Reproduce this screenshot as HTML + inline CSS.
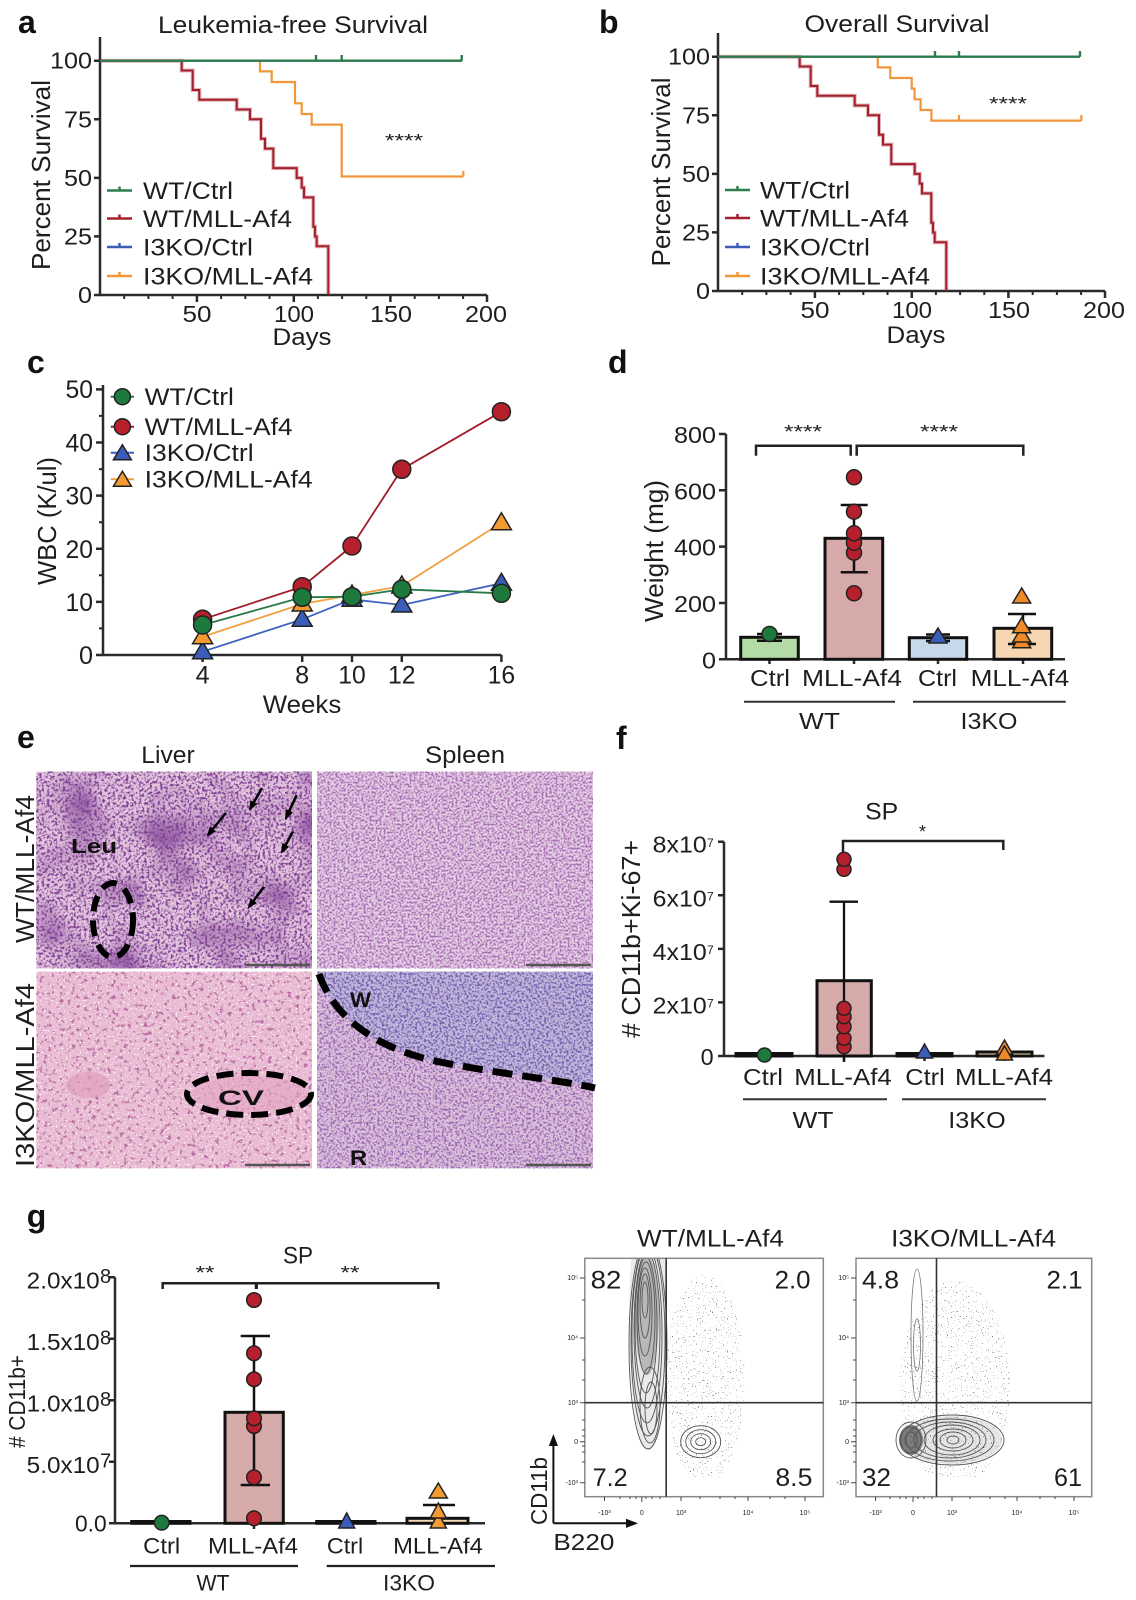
<!DOCTYPE html>
<html><head><meta charset="utf-8">
<style>
html,body{margin:0;padding:0;background:#fff;}
svg{display:block;}
text{font-family:"Liberation Sans",Arial,Helvetica,sans-serif;fill:#1e1e1e;}
.b{font-weight:bold;fill:#111;}
.ax{fill:none;stroke:#2a2a2a;stroke-width:2.5;}
.tk{fill:#555;font-size:7px;}
</style></head><body>
<svg width="1136" height="1600" viewBox="0 0 1136 1600" xmlns="http://www.w3.org/2000/svg">
<defs>
<filter id="nTL" x="0" y="0" width="1" height="1" color-interpolation-filters="sRGB">
<feTurbulence type="fractalNoise" baseFrequency="0.38" numOctaves="3" seed="4"/>
<feColorMatrix type="matrix" values="0 0 0 0 0.5 0 0 0 0 0.25 0 0 0 0 0.58 5 0 0 0 -2.35"/>
</filter>
<filter id="nTL2" x="0" y="0" width="1" height="1" color-interpolation-filters="sRGB">
<feTurbulence type="fractalNoise" baseFrequency="0.02" numOctaves="2" seed="9"/>
<feColorMatrix type="matrix" values="0 0 0 0 0.5 0 0 0 0 0.25 0 0 0 0 0.58 2 0 0 0 -0.9"/>
</filter>
<filter id="nTR" x="0" y="0" width="1" height="1" color-interpolation-filters="sRGB">
<feTurbulence type="fractalNoise" baseFrequency="0.5" numOctaves="2" seed="11"/>
<feColorMatrix type="matrix" values="0 0 0 0 0.66 0 0 0 0 0.44 0 0 0 0 0.7 5 0 0 0 -2.2"/>
</filter>
<filter id="nBL" x="0" y="0" width="1" height="1" color-interpolation-filters="sRGB">
<feTurbulence type="fractalNoise" baseFrequency="0.25" numOctaves="2" seed="21"/>
<feColorMatrix type="matrix" values="0 0 0 0 0.72 0 0 0 0 0.42 0 0 0 0 0.64 6 0 0 0 -3.4"/>
</filter>
<filter id="nBLw" x="0" y="0" width="1" height="1" color-interpolation-filters="sRGB">
<feTurbulence type="fractalNoise" baseFrequency="0.5" numOctaves="1" seed="5"/>
<feColorMatrix type="matrix" values="0 0 0 0 1 0 0 0 0 0.95 0 0 0 0 0.97 7 0 0 0 -4.2"/>
</filter>
<filter id="nBR" x="0" y="0" width="1" height="1" color-interpolation-filters="sRGB">
<feTurbulence type="fractalNoise" baseFrequency="0.45" numOctaves="2" seed="31"/>
<feColorMatrix type="matrix" values="0 0 0 0 0.6 0 0 0 0 0.42 0 0 0 0 0.7 5 0 0 0 -2.3"/>
</filter>
<filter id="nBR2" x="0" y="0" width="1" height="1" color-interpolation-filters="sRGB">
<feTurbulence type="fractalNoise" baseFrequency="0.45" numOctaves="2" seed="37"/>
<feColorMatrix type="matrix" values="0 0 0 0 0.45 0 0 0 0 0.38 0 0 0 0 0.68 5 0 0 0 -2.3"/>
</filter>
<filter id="spk" x="0" y="0" width="1" height="1" color-interpolation-filters="sRGB">
<feTurbulence type="fractalNoise" baseFrequency="0.8" numOctaves="1" seed="13"/>
<feColorMatrix type="matrix" values="0 0 0 0 0.3 0 0 0 0 0.3 0 0 0 0 0.3 25 0 0 0 -17.2"/>
</filter>
<clipPath id="cBRtop"><path d="M317,971.7 L319,974 C335,1020 380,1050 440,1062 S560,1080 593,1086 L593,971.7 Z"/></clipPath>
<clipPath id="boxL"><rect x="584.8" y="1258.3" width="238.5" height="238.4"/></clipPath>
<clipPath id="boxR"><rect x="856" y="1258.3" width="235.7" height="238.4"/></clipPath>
<clipPath id="spL"><ellipse cx="705" cy="1380" rx="40" ry="105"/></clipPath>
<clipPath id="spR"><ellipse cx="955" cy="1385" rx="55" ry="105"/></clipPath>
<marker id="ah" markerWidth="10" markerHeight="8" refX="8" refY="4" orient="auto" markerUnits="userSpaceOnUse"><path d="M0,0 L10,4 L0,8 Z" fill="#000"/></marker>
</defs>

<!-- ================= PANEL A ================= -->
<text class="b" x="18" y="33" font-size="32">a</text>
<text x="293" y="33" font-size="24" text-anchor="middle" textLength="270" lengthAdjust="spacingAndGlyphs">Leukemia-free Survival</text>
<g>
<path class="ax" d="M100,37 V295 H487"/>
<path stroke="#2a2a2a" stroke-width="2.5" d="M94,60.7H100M94,119.3H100M94,177.9H100M94,236.4H100M94,295H100"/>
<path stroke="#2a2a2a" stroke-width="2.5" d="M196.9,295V302M293.8,295V302M390.4,295V302M487,295V302"/>
<path stroke="#2a2a2a" stroke-width="2" d="M124.2,295V299M148.4,295V299M172.6,295V299M221.1,295V299M245.3,295V299M269.5,295V299M317.9,295V299M342.1,295V299M366.3,295V299M414.7,295V299M438.9,295V299M463.1,295V299"/>
<g font-size="23">
<text x="92" y="68.7" text-anchor="end" textLength="42" lengthAdjust="spacingAndGlyphs">100</text>
<text x="92" y="127.3" text-anchor="end" textLength="28" lengthAdjust="spacingAndGlyphs">75</text>
<text x="92" y="185.9" text-anchor="end" textLength="28" lengthAdjust="spacingAndGlyphs">50</text>
<text x="92" y="244.4" text-anchor="end" textLength="28" lengthAdjust="spacingAndGlyphs">25</text>
<text x="92" y="303" text-anchor="end" textLength="14" lengthAdjust="spacingAndGlyphs">0</text>
<text x="197" y="322" text-anchor="middle" textLength="29" lengthAdjust="spacingAndGlyphs">50</text>
<text x="294" y="322" text-anchor="middle" textLength="40" lengthAdjust="spacingAndGlyphs">100</text>
<text x="391" y="322" text-anchor="middle" textLength="42" lengthAdjust="spacingAndGlyphs">150</text>
<text x="486" y="322" text-anchor="middle" textLength="42" lengthAdjust="spacingAndGlyphs">200</text>
</g>
<text x="302" y="345" font-size="24" text-anchor="middle" textLength="59" lengthAdjust="spacingAndGlyphs">Days</text>
<text transform="translate(50,175) rotate(-90)" font-size="26" text-anchor="middle" textLength="190" lengthAdjust="spacingAndGlyphs">Percent Survival</text>
<path fill="none" stroke="#b02530" stroke-opacity="0.35" stroke-width="4" d="M100,60.7 H181.7 V70.5 H192.7 V90 H199.3 V99.7 H236.7 V109.5 H250 V119.3 H261 V138.8 H265 V148.6 H273.3 V168.1 H296.7 V177.9 H301.7 V187.6 H304 V197.4 H313.3 V226.7 H315 V236.5 H316.7 V246.2 H328.3 V295"/>
<path fill="none" stroke="#a3202e" stroke-width="2" d="M100,60.7 H181.7 V70.5 H192.7 V90 H199.3 V99.7 H236.7 V109.5 H250 V119.3 H261 V138.8 H265 V148.6 H273.3 V168.1 H296.7 V177.9 H301.7 V187.6 H304 V197.4 H313.3 V226.7 H315 V236.5 H316.7 V246.2 H328.3 V295"/>
<path fill="none" stroke="#f0963c" stroke-width="2.2" d="M100,60.7 H260 V71.35 H271.7 V82 H295 V103.3 H301.7 V114 H311.7 V124.6 H341.7 V176.5 H463.3 M463.3,176.5 V171"/>
<path fill="none" stroke="#3b5cb8" stroke-width="2" d="M100,60.7 H462"/>
<path fill="none" stroke="#2e7d4f" stroke-width="2.4" d="M100,60.7 H462 M316,60.7V55 M341.7,60.7V55 M461.7,60.7V55"/>
<g stroke-width="2.5">
<path stroke="#2e7d4f" d="M107,190.5H132M119.5,190.5V186.5"/>
<path stroke="#a3202e" d="M107,218.5H132M119.5,218.5V214.5"/>
<path stroke="#3b5cb8" d="M107,247H132M119.5,247V243"/>
<path stroke="#f0963c" d="M107,276H132M119.5,276V272"/>
</g>
<g font-size="24">
<text x="143" y="199" textLength="90" lengthAdjust="spacingAndGlyphs">WT/Ctrl</text>
<text x="143" y="227" textLength="149" lengthAdjust="spacingAndGlyphs">WT/MLL-Af4</text>
<text x="143" y="255.5" textLength="110" lengthAdjust="spacingAndGlyphs">I3KO/Ctrl</text>
<text x="143" y="284.5" textLength="170" lengthAdjust="spacingAndGlyphs">I3KO/MLL-Af4</text>
</g>
<text x="404" y="147" font-size="18" text-anchor="middle" textLength="38" lengthAdjust="spacingAndGlyphs">****</text>
</g>

<!-- ================= PANEL B ================= -->
<text class="b" x="599" y="33" font-size="32">b</text>
<g transform="translate(618,-4)">
<text x="279" y="36" font-size="24" text-anchor="middle" textLength="185" lengthAdjust="spacingAndGlyphs">Overall Survival</text>
<path class="ax" d="M100,37 V295 H487"/>
<path stroke="#2a2a2a" stroke-width="2.5" d="M94,60.7H100M94,119.3H100M94,177.9H100M94,236.4H100M94,295H100"/>
<path stroke="#2a2a2a" stroke-width="2.5" d="M196.9,295V302M293.8,295V302M390.4,295V302M487,295V302"/>
<path stroke="#2a2a2a" stroke-width="2" d="M124.2,295V299M148.4,295V299M172.6,295V299M221.1,295V299M245.3,295V299M269.5,295V299M317.9,295V299M342.1,295V299M366.3,295V299M414.7,295V299M438.9,295V299M463.1,295V299"/>
<g font-size="23">
<text x="92" y="68.7" text-anchor="end" textLength="42" lengthAdjust="spacingAndGlyphs">100</text>
<text x="92" y="127.3" text-anchor="end" textLength="28" lengthAdjust="spacingAndGlyphs">75</text>
<text x="92" y="185.9" text-anchor="end" textLength="28" lengthAdjust="spacingAndGlyphs">50</text>
<text x="92" y="244.4" text-anchor="end" textLength="28" lengthAdjust="spacingAndGlyphs">25</text>
<text x="92" y="303" text-anchor="end" textLength="14" lengthAdjust="spacingAndGlyphs">0</text>
<text x="197" y="322" text-anchor="middle" textLength="29" lengthAdjust="spacingAndGlyphs">50</text>
<text x="294" y="322" text-anchor="middle" textLength="40" lengthAdjust="spacingAndGlyphs">100</text>
<text x="391" y="322" text-anchor="middle" textLength="42" lengthAdjust="spacingAndGlyphs">150</text>
<text x="486" y="322" text-anchor="middle" textLength="42" lengthAdjust="spacingAndGlyphs">200</text>
</g>
<text x="298" y="347" font-size="24" text-anchor="middle" textLength="59" lengthAdjust="spacingAndGlyphs">Days</text>
<text transform="translate(52,176) rotate(-90)" font-size="26" text-anchor="middle" textLength="189" lengthAdjust="spacingAndGlyphs">Percent Survival</text>
<path fill="none" stroke="#b02530" stroke-opacity="0.35" stroke-width="4" d="M100,60.7 H181.7 V70.5 H192.7 V90 H199.3 V99.7 H236.7 V109.5 H250 V119.3 H261 V138.8 H265 V148.6 H273.3 V168.1 H296.7 V177.9 H301.7 V187.6 H304 V197.4 H313.3 V226.7 H315 V236.5 H316.7 V246.2 H328.3 V295"/>
<path fill="none" stroke="#a3202e" stroke-width="2" d="M100,60.7 H181.7 V70.5 H192.7 V90 H199.3 V99.7 H236.7 V109.5 H250 V119.3 H261 V138.8 H265 V148.6 H273.3 V168.1 H296.7 V177.9 H301.7 V187.6 H304 V197.4 H313.3 V226.7 H315 V236.5 H316.7 V246.2 H328.3 V295"/>
<path fill="none" stroke="#f0963c" stroke-width="2.2" d="M100,60.7 H259.8 V71.35 H272.3 V82 H293.7 V92.65 H296.6 V103.3 H302.6 V114 H313.4 V124.6 H463.4 M341,124.6V119 M463.4,124.6V119"/>
<path fill="none" stroke="#3b5cb8" stroke-width="2" d="M100,60.7 H462"/>
<path fill="none" stroke="#2e7d4f" stroke-width="2.4" d="M100,60.7 H462 M317,60.7V55 M341,60.7V55 M462,60.7V55"/>
<g stroke-width="2.5">
<path stroke="#2e7d4f" d="M107,194H132M119.5,194V190"/>
<path stroke="#a3202e" d="M107,222H132M119.5,222V218"/>
<path stroke="#3b5cb8" d="M107,251H132M119.5,251V247"/>
<path stroke="#f0963c" d="M107,280H132M119.5,280V276"/>
</g>
<g font-size="24">
<text x="142" y="202.5" textLength="90" lengthAdjust="spacingAndGlyphs">WT/Ctrl</text>
<text x="142" y="230.5" textLength="149" lengthAdjust="spacingAndGlyphs">WT/MLL-Af4</text>
<text x="142" y="259.5" textLength="110" lengthAdjust="spacingAndGlyphs">I3KO/Ctrl</text>
<text x="142" y="288.5" textLength="170" lengthAdjust="spacingAndGlyphs">I3KO/MLL-Af4</text>
</g>
<text x="390" y="114" font-size="18" text-anchor="middle" textLength="38" lengthAdjust="spacingAndGlyphs">****</text>
</g>

<!-- ================= PANEL C ================= -->
<text class="b" x="27" y="373" font-size="32">c</text>
<path class="ax" d="M103,385 V655 H501.4"/>
<path stroke="#2a2a2a" stroke-width="2.5" d="M96,389.4H103M96,442.5H103M96,495.6H103M96,548.8H103M96,601.9H103M96,655H103"/>
<path stroke="#2a2a2a" stroke-width="2" d="M99,415.9H103M99,469.1H103M99,522.2H103M99,575.3H103M99,628.4H103"/>
<path stroke="#2a2a2a" stroke-width="2.5" d="M202.6,655V662M302.2,655V662M352,655V662M401.8,655V662M501.4,655V662"/>
<g font-size="25">
<text x="93" y="398" text-anchor="end" textLength="27.5" lengthAdjust="spacingAndGlyphs">50</text>
<text x="93" y="451.5" text-anchor="end" textLength="27.5" lengthAdjust="spacingAndGlyphs">40</text>
<text x="93" y="504.6" text-anchor="end" textLength="27.5" lengthAdjust="spacingAndGlyphs">30</text>
<text x="93" y="557.8" text-anchor="end" textLength="27.5" lengthAdjust="spacingAndGlyphs">20</text>
<text x="93" y="610.9" text-anchor="end" textLength="27.5" lengthAdjust="spacingAndGlyphs">10</text>
<text x="93" y="664" text-anchor="end" textLength="14" lengthAdjust="spacingAndGlyphs">0</text>
<text x="202.6" y="683.3" text-anchor="middle" textLength="14" lengthAdjust="spacingAndGlyphs">4</text>
<text x="302.2" y="683.3" text-anchor="middle" textLength="14" lengthAdjust="spacingAndGlyphs">8</text>
<text x="352" y="683.3" text-anchor="middle" textLength="27.5" lengthAdjust="spacingAndGlyphs">10</text>
<text x="401.8" y="683.3" text-anchor="middle" textLength="27.5" lengthAdjust="spacingAndGlyphs">12</text>
<text x="501.4" y="683.3" text-anchor="middle" textLength="27.5" lengthAdjust="spacingAndGlyphs">16</text>
</g>
<text x="302" y="713" font-size="25" text-anchor="middle" textLength="78.5" lengthAdjust="spacingAndGlyphs">Weeks</text>
<text transform="translate(56,521) rotate(-90)" font-size="26" text-anchor="middle" textLength="128" lengthAdjust="spacingAndGlyphs">WBC (K/ul)</text>
<g fill="none" stroke-width="1.8">
<path stroke="#3d62c0" d="M202.6,651.7 L302.2,619.3 L352,599.3 L401.8,605 L501.4,583.3"/>
<path stroke="#f0a040" d="M202.6,636.7 L302.2,604 L352,595 L401.8,586 L501.4,522.7"/>
<path stroke="#2a7a45" d="M202.6,625 L302.2,597.3 L352,596.7 L401.8,589.3 L501.4,593.3"/>
<path stroke="#a01c2a" d="M202.6,619.3 L302.2,586.7 L352,546 L401.8,469.3 L501.4,411.7"/>
</g>
<g stroke="#222" stroke-width="1.5">
<g fill="#3b5cb8">
<path d="M202.6,641.7 L212.6,658.7 L192.6,658.7 Z"/>
<path d="M302.2,609.3 L312.2,626.3 L292.2,626.3 Z"/>
<path d="M352,589.3 L362,606.3 L342,606.3 Z"/>
<path d="M401.8,595 L411.8,612 L391.8,612 Z"/>
<path d="M501.4,573.3 L511.4,590.3 L491.4,590.3 Z"/>
</g>
<g fill="#f39a30">
<path d="M202.6,626.7 L212.6,643.7 L192.6,643.7 Z"/>
<path d="M302.2,594 L312.2,611 L292.2,611 Z"/>
<path d="M352,585 L362,602 L342,602 Z"/>
<path d="M401.8,576 L411.8,593 L391.8,593 Z"/>
<path d="M501.4,512.7 L511.4,529.7 L491.4,529.7 Z"/>
</g>
<g fill="#b5202c">
<circle cx="202.6" cy="619.3" r="9"/><circle cx="302.2" cy="586.7" r="9"/><circle cx="352" cy="546" r="9"/><circle cx="401.8" cy="469.3" r="9"/><circle cx="501.4" cy="411.7" r="9"/>
</g>
<g fill="#1d7a3c">
<circle cx="202.6" cy="625" r="9"/><circle cx="302.2" cy="597.3" r="9"/><circle cx="352" cy="596.7" r="9"/><circle cx="401.8" cy="589.3" r="9"/><circle cx="501.4" cy="593.3" r="9"/>
</g>
</g>
<g stroke-width="2">
<path stroke="#2a7a45" d="M110.7,396.7H134"/>
<path stroke="#a01c2a" d="M110.7,426.7H134"/>
<path stroke="#3d62c0" d="M110.7,452.7H134"/>
<path stroke="#f0a040" d="M110.7,479.3H134"/>
</g>
<g stroke="#222" stroke-width="1.5">
<circle cx="122.4" cy="396.7" r="8" fill="#1d7a3c"/>
<circle cx="122.4" cy="426.7" r="8" fill="#b5202c"/>
<path d="M122.4,444.7 L131.4,459.7 L113.4,459.7 Z" fill="#3b5cb8"/>
<path d="M122.4,471.3 L131.4,486.3 L113.4,486.3 Z" fill="#f39a30"/>
</g>
<g font-size="24">
<text x="144.6" y="405" textLength="89.3" lengthAdjust="spacingAndGlyphs">WT/Ctrl</text>
<text x="144.6" y="435" textLength="148" lengthAdjust="spacingAndGlyphs">WT/MLL-Af4</text>
<text x="144.6" y="461" textLength="109" lengthAdjust="spacingAndGlyphs">I3KO/Ctrl</text>
<text x="144.6" y="487.6" textLength="168" lengthAdjust="spacingAndGlyphs">I3KO/MLL-Af4</text>
</g>

<!-- ================= PANEL D ================= -->
<text class="b" x="608" y="373" font-size="32">d</text>
<path class="ax" d="M726,434 V659.3 H1065"/>
<path stroke="#2a2a2a" stroke-width="2.5" d="M719,434H726M719,490.3H726M719,546.6H726M719,603H726M719,659.3H726"/>
<path stroke="#2a2a2a" stroke-width="2.5" d="M769.5,659.3V664M854,659.3V664M938,659.3V664M1023,659.3V664"/>
<g font-size="23">
<text x="716" y="443" text-anchor="end" textLength="42" lengthAdjust="spacingAndGlyphs">800</text>
<text x="716" y="499.3" text-anchor="end" textLength="42" lengthAdjust="spacingAndGlyphs">600</text>
<text x="716" y="555.6" text-anchor="end" textLength="42" lengthAdjust="spacingAndGlyphs">400</text>
<text x="716" y="612" text-anchor="end" textLength="42" lengthAdjust="spacingAndGlyphs">200</text>
<text x="716" y="668.3" text-anchor="end" textLength="14" lengthAdjust="spacingAndGlyphs">0</text>
</g>
<text transform="translate(663,551) rotate(-90)" font-size="26" text-anchor="middle" textLength="142" lengthAdjust="spacingAndGlyphs">Weight (mg)</text>
<g stroke="#111" stroke-width="3">
<rect x="740.7" y="637.3" width="57.6" height="22" fill="#b3dba6"/>
<rect x="825" y="538.3" width="57.7" height="121" fill="#d6aaa9"/>
<rect x="909.3" y="637.7" width="57.4" height="21.6" fill="#c6d9ea"/>
<rect x="994" y="628.3" width="57.7" height="31" fill="#f7d6b2"/>
</g>
<g stroke="#111" stroke-width="2.5" fill="none">
<path d="M854,505V572.3M840.7,505H867.7M840.7,572.3H867.7"/>
<path d="M1023,614V644M1008,614H1036M1008,644H1036"/>
<path d="M757,634H782M757,640.7H782"/>
<path d="M926,634.5H950M926,641H950"/>
</g>
<g stroke="#222" stroke-width="1.5">
<g fill="#b5202c">
<circle cx="854" cy="593.3" r="7.5"/><circle cx="854" cy="552.7" r="7.5"/><circle cx="854" cy="542.7" r="7.5"/><circle cx="854" cy="533.3" r="7.5"/><circle cx="854" cy="511.7" r="7.5"/><circle cx="854" cy="477.3" r="7.5"/>
</g>
<circle cx="769.5" cy="634" r="7.5" fill="#1d7a3c"/>
<path d="M938,628 L947,643 L929,643 Z" fill="#3b5cb8"/>
<g fill="#f08a28">
<path d="M1021.7,632.7 L1030.7,647.7 L1012.7,647.7 Z"/>
<path d="M1021.7,627 L1030.7,642 L1012.7,642 Z"/>
<path d="M1021.7,617.7 L1030.7,632.7 L1012.7,632.7 Z"/>
<path d="M1021.7,588 L1030.7,603 L1012.7,603 Z"/>
</g>
</g>
<path fill="none" stroke="#222" stroke-width="2.5" d="M756,455.7V445.7H850.7V455.7M856.7,455.7V445.7H1023.3V455.7"/>
<text x="803" y="438" font-size="18" text-anchor="middle" textLength="38" lengthAdjust="spacingAndGlyphs">****</text>
<text x="939" y="438" font-size="18" text-anchor="middle" textLength="38" lengthAdjust="spacingAndGlyphs">****</text>
<g font-size="23">
<text x="770" y="686" text-anchor="middle" textLength="40" lengthAdjust="spacingAndGlyphs">Ctrl</text>
<text x="852" y="686" text-anchor="middle" textLength="100" lengthAdjust="spacingAndGlyphs">MLL-Af4</text>
<text x="937.5" y="686" text-anchor="middle" textLength="39" lengthAdjust="spacingAndGlyphs">Ctrl</text>
<text x="1020" y="686" text-anchor="middle" textLength="98.6" lengthAdjust="spacingAndGlyphs">MLL-Af4</text>
<text x="819.5" y="729" text-anchor="middle" textLength="41" lengthAdjust="spacingAndGlyphs">WT</text>
<text x="989" y="729" text-anchor="middle" textLength="57" lengthAdjust="spacingAndGlyphs">I3KO</text>
</g>
<path stroke="#333" stroke-width="2" d="M744,701.7H895M913,701.7H1065.7"/>

<!-- ================= PANEL E ================= -->
<text class="b" x="17" y="748" font-size="32">e</text>
<text x="168" y="763" font-size="24" text-anchor="middle" textLength="53.5" lengthAdjust="spacingAndGlyphs">Liver</text>
<text x="465" y="763" font-size="24" text-anchor="middle" textLength="80" lengthAdjust="spacingAndGlyphs">Spleen</text>
<text transform="translate(34,869) rotate(-90)" font-size="26" text-anchor="middle" textLength="148" lengthAdjust="spacingAndGlyphs">WT/MLL-Af4</text>
<text transform="translate(34,1075) rotate(-90)" font-size="26" text-anchor="middle" textLength="184" lengthAdjust="spacingAndGlyphs">I3KO/MLL-Af4</text>
<!-- TL -->
<rect x="36.4" y="771.7" width="275.6" height="196.6" fill="#e2c4dd"/>
<rect x="36.4" y="771.7" width="275.6" height="196.6" filter="url(#nTL2)"/>
<rect x="36.4" y="771.7" width="275.6" height="196.6" filter="url(#nTL)"/>
<!-- TR -->
<rect x="317" y="771.7" width="276" height="196.6" fill="#e6d0e6"/>
<rect x="317" y="771.7" width="276" height="196.6" filter="url(#nTR)"/>
<!-- BL -->
<rect x="36.4" y="971.7" width="275.6" height="196.6" fill="#eabcd3"/>
<rect x="36.4" y="971.7" width="275.6" height="196.6" filter="url(#nBL)"/>
<rect x="36.4" y="971.7" width="275.6" height="196.6" filter="url(#nBLw)"/>
<ellipse cx="88" cy="1085" rx="22" ry="13" fill="#df9fbf" opacity="0.7"/>
<ellipse cx="249" cy="1094" rx="58" ry="18" fill="#e3a4c2" opacity="0.6"/>
<!-- BR -->
<rect x="317" y="971.7" width="276" height="196.6" fill="#ddc0dc"/>
<rect x="317" y="971.7" width="276" height="196.6" filter="url(#nBR)"/>
<g clip-path="url(#cBRtop)">
<rect x="317" y="971.7" width="276" height="120" fill="#c3b6dc"/>
<rect x="317" y="971.7" width="276" height="120" filter="url(#nBR2)"/>
</g>
<!-- annotations -->
<g stroke="#555" stroke-width="2.5">
<path d="M245,965H310M526,965H591M245,1165H310M526,1165H591"/>
</g>
<text class="b" x="71" y="853" font-size="20" textLength="46" lengthAdjust="spacingAndGlyphs">Leu</text>
<ellipse cx="113" cy="920" rx="20" ry="37" fill="none" stroke="#000" stroke-width="6" stroke-dasharray="16 9"/>
<g stroke="#000" stroke-width="2.5" marker-end="url(#ah)">
<path d="M225.8,813 L208,835"/>
<path d="M262,788 L250,809"/>
<path d="M296.6,795 L286,818"/>
<path d="M292.8,831.7 L282,852"/>
<path d="M264,886.7 L249,907"/>
</g>
<ellipse cx="249" cy="1094" rx="62" ry="21" fill="none" stroke="#000" stroke-width="6" stroke-dasharray="17 8"/>
<text class="b" x="218" y="1105" font-size="21" textLength="46" lengthAdjust="spacingAndGlyphs">CV</text>
<path d="M319,974 C335,1020 380,1050 440,1062 S560,1080 595,1088" fill="none" stroke="#000" stroke-width="7" stroke-dasharray="20 10"/>
<text class="b" x="350" y="1007" font-size="21" textLength="21" lengthAdjust="spacingAndGlyphs">W</text>
<text class="b" x="350" y="1165" font-size="21" textLength="17" lengthAdjust="spacingAndGlyphs">R</text>

<!-- ================= PANEL F ================= -->
<text class="b" x="616" y="749" font-size="32">f</text>
<text x="881.7" y="819.3" font-size="24" text-anchor="middle" textLength="33" lengthAdjust="spacingAndGlyphs">SP</text>
<path class="ax" d="M724,841.7 V1056 H1044.4"/>
<path stroke="#2a2a2a" stroke-width="2.5" d="M718,841.7H724M718,895.3H724M718,948.9H724M718,1002.4H724M718,1056H724"/>
<path stroke="#2a2a2a" stroke-width="2.5" d="M764,1056V1061M844,1056V1062M924.5,1056V1061M1004.5,1056V1061"/>
<g font-size="23">
<text x="652.7" y="852.7" textLength="54" lengthAdjust="spacingAndGlyphs">8x10</text>
<text x="652.7" y="906.3" textLength="54" lengthAdjust="spacingAndGlyphs">6x10</text>
<text x="652.7" y="959.9" textLength="54" lengthAdjust="spacingAndGlyphs">4x10</text>
<text x="652.7" y="1013.4" textLength="54" lengthAdjust="spacingAndGlyphs">2x10</text>
<text x="713.6" y="1065" text-anchor="end" textLength="13" lengthAdjust="spacingAndGlyphs">0</text>
</g>
<g font-size="12">
<text x="707" y="847">7</text><text x="707" y="900.6">7</text><text x="707" y="954.2">7</text><text x="707" y="1007.7">7</text>
</g>
<text transform="translate(640,939) rotate(-90)" font-size="26" text-anchor="middle" textLength="198" lengthAdjust="spacingAndGlyphs"># CD11b+Ki-67+</text>
<g stroke="#111" stroke-width="3">
<rect x="736" y="1053.5" width="56" height="2.5" fill="#b3dba6"/>
<rect x="817" y="980.7" width="54.3" height="75.3" fill="#d6aaa9"/>
<rect x="897" y="1053.5" width="55" height="2.5" fill="#c6d9ea"/>
<rect x="977" y="1052" width="55" height="4" fill="#f7d6b2"/>
</g>
<path fill="none" stroke="#111" stroke-width="2.3" d="M844,901.7V1061M829.5,901.7H858"/>
<g stroke="#222" stroke-width="1.5">
<g fill="#b5202c">
<circle cx="844" cy="1046.7" r="7"/><circle cx="844" cy="1038.3" r="7"/><circle cx="844" cy="1026.7" r="7"/><circle cx="844" cy="1016.7" r="7"/><circle cx="844" cy="1008.3" r="7"/><circle cx="844" cy="869.3" r="7"/><circle cx="844" cy="859.3" r="7"/>
</g>
<circle cx="764.5" cy="1055" r="7" fill="#1d7a3c"/>
<path d="M924.5,1044 L932.5,1058 L916.5,1058 Z" fill="#3b5cb8"/>
<path d="M1004.5,1040 L1012.5,1054 L996.5,1054 Z" fill="#f08a28"/>
<path d="M1004.5,1046 L1012.5,1060 L996.5,1060 Z" fill="#f08a28"/>
</g>
<path fill="none" stroke="#222" stroke-width="2.5" d="M843,851.7V841H1003.3V850"/>
<text x="922.5" y="838" font-size="18" text-anchor="middle">*</text>
<g font-size="23">
<text x="763" y="1085" text-anchor="middle" textLength="40" lengthAdjust="spacingAndGlyphs">Ctrl</text>
<text x="843" y="1085" text-anchor="middle" textLength="97.5" lengthAdjust="spacingAndGlyphs">MLL-Af4</text>
<text x="925" y="1085" text-anchor="middle" textLength="39.5" lengthAdjust="spacingAndGlyphs">Ctrl</text>
<text x="1004" y="1085" text-anchor="middle" textLength="98" lengthAdjust="spacingAndGlyphs">MLL-Af4</text>
<text x="813" y="1128" text-anchor="middle" textLength="41" lengthAdjust="spacingAndGlyphs">WT</text>
<text x="977" y="1128" text-anchor="middle" textLength="57.4" lengthAdjust="spacingAndGlyphs">I3KO</text>
</g>
<path stroke="#333" stroke-width="2" d="M743,1099.3H887M902,1099.3H1046"/>

<!-- ================= PANEL G (bars) ================= -->
<text class="b" x="26.7" y="1227" font-size="32">g</text>
<text x="298" y="1263.3" font-size="24" text-anchor="middle" textLength="30" lengthAdjust="spacingAndGlyphs">SP</text>
<path class="ax" d="M115,1277.3 V1523.3 H485"/>
<path stroke="#2a2a2a" stroke-width="2.5" d="M109,1277.3H115M109,1338.8H115M109,1400.3H115M109,1461.8H115M109,1523.3H115"/>
<path stroke="#2a2a2a" stroke-width="2.5" d="M161.7,1523.3V1528M254,1523.3V1529M346.7,1523.3V1528M438.3,1523.3V1528"/>
<g font-size="23">
<text x="26.7" y="1288.3" textLength="73" lengthAdjust="spacingAndGlyphs">2.0x10</text>
<text x="26.7" y="1349.8" textLength="73" lengthAdjust="spacingAndGlyphs">1.5x10</text>
<text x="26.7" y="1411.3" textLength="73" lengthAdjust="spacingAndGlyphs">1.0x10</text>
<text x="26.7" y="1472.8" textLength="73" lengthAdjust="spacingAndGlyphs">5.0x10</text>
<text x="106.7" y="1531.7" text-anchor="end" textLength="31.7" lengthAdjust="spacingAndGlyphs">0.0</text>
</g>
<g font-size="20">
<text x="100" y="1283">8</text><text x="100" y="1344.5">8</text><text x="100" y="1406">8</text><text x="100" y="1467.5">7</text>
</g>
<text transform="translate(25,1401.5) rotate(-90)" font-size="23" text-anchor="middle" textLength="93" lengthAdjust="spacingAndGlyphs"># CD11b+</text>
<g stroke="#111" stroke-width="3">
<rect x="131.7" y="1521.5" width="58.3" height="1.8" fill="#b3dba6"/>
<rect x="225" y="1412.3" width="58.3" height="111" fill="#d6aaa9"/>
<rect x="316.7" y="1521.5" width="58.3" height="1.8" fill="#c6d9ea"/>
<rect x="407" y="1518.3" width="61" height="5" fill="#f7d6b2"/>
</g>
<path fill="none" stroke="#111" stroke-width="2.5" d="M254,1336V1485M240.7,1336H270M240.7,1485H270M438.3,1505V1523M423,1505H455"/>
<g stroke="#222" stroke-width="1.5">
<g fill="#b5202c">
<circle cx="254" cy="1518.3" r="7.3"/><circle cx="254" cy="1477.3" r="7.3"/><circle cx="254" cy="1426" r="7.3"/><circle cx="254" cy="1418.3" r="7.3"/><circle cx="254" cy="1379.3" r="7.3"/><circle cx="254" cy="1353.3" r="7.3"/><circle cx="254" cy="1300" r="7.3"/>
</g>
<circle cx="161.7" cy="1522.7" r="7.3" fill="#1d7a3c"/>
<path d="M346.7,1513 L354.7,1528 L338.7,1528 Z" fill="#3b5cb8"/>
<g fill="#f39a30">
<path d="M438.3,1513 L446.3,1528 L430.3,1528 Z"/>
<path d="M438.3,1503 L446.3,1518 L430.3,1518 Z"/>
<path d="M438.3,1483 L447.3,1498 L429.3,1498 Z"/>
</g>
</g>
<path fill="none" stroke="#222" stroke-width="2.5" d="M162.7,1289V1283.3H256V1289M256.7,1289V1283.3H438.3V1289"/>
<text x="205" y="1279" font-size="18" text-anchor="middle" textLength="19" lengthAdjust="spacingAndGlyphs">**</text>
<text x="350" y="1279" font-size="18" text-anchor="middle" textLength="19" lengthAdjust="spacingAndGlyphs">**</text>
<g font-size="22">
<text x="161.7" y="1553.3" text-anchor="middle" textLength="37" lengthAdjust="spacingAndGlyphs">Ctrl</text>
<text x="253" y="1553.3" text-anchor="middle" textLength="90" lengthAdjust="spacingAndGlyphs">MLL-Af4</text>
<text x="345" y="1553.3" text-anchor="middle" textLength="36.3" lengthAdjust="spacingAndGlyphs">Ctrl</text>
<text x="438" y="1553.3" text-anchor="middle" textLength="89.7" lengthAdjust="spacingAndGlyphs">MLL-Af4</text>
<text x="213" y="1590.7" text-anchor="middle" textLength="33" lengthAdjust="spacingAndGlyphs">WT</text>
<text x="409" y="1590.7" text-anchor="middle" textLength="52" lengthAdjust="spacingAndGlyphs">I3KO</text>
</g>
<path stroke="#222" stroke-width="2.2" d="M130,1566H298M326.7,1566H495"/>

<!-- ================= PANEL G (flow) ================= -->
<text x="710.5" y="1246.7" font-size="24" text-anchor="middle" textLength="147" lengthAdjust="spacingAndGlyphs">WT/MLL-Af4</text>
<text x="973.6" y="1246.7" font-size="24" text-anchor="middle" textLength="165" lengthAdjust="spacingAndGlyphs">I3KO/MLL-Af4</text>
<!-- left plot contents -->
<g clip-path="url(#boxL)">
<ellipse cx="648" cy="1320" rx="19" ry="130" fill="#888" opacity="0.18"/>
<ellipse cx="647" cy="1315" rx="12" ry="60" fill="#444" opacity="0.3"/>
<g fill="none" stroke="#555" stroke-width="0.9">
<ellipse cx="648" cy="1345" rx="19" ry="104"/>
<ellipse cx="648" cy="1340" rx="17" ry="96"/>
<ellipse cx="647" cy="1335" rx="15" ry="88"/>
<ellipse cx="647" cy="1330" rx="13" ry="78"/>
<ellipse cx="646" cy="1325" rx="11" ry="68"/>
<ellipse cx="646" cy="1318" rx="9" ry="56"/>
<ellipse cx="645" cy="1312" rx="7" ry="44"/>
<ellipse cx="645" cy="1306" rx="5" ry="32"/>
<ellipse cx="645" cy="1300" rx="3" ry="18"/>
<ellipse cx="650" cy="1405" rx="10" ry="38"/>
<ellipse cx="651" cy="1408" rx="6" ry="26"/>
<ellipse cx="700.7" cy="1441.7" rx="20" ry="16"/>
<ellipse cx="700.7" cy="1441.7" rx="15" ry="12"/>
<ellipse cx="700.7" cy="1441.7" rx="10" ry="8"/>
<ellipse cx="700.7" cy="1441.7" rx="5" ry="4"/>
</g>
<rect x="660" y="1262" width="100" height="215" filter="url(#spk)" clip-path="url(#spL)"/>
</g>
<rect x="584.8" y="1258.3" width="238.5" height="238.4" fill="none" stroke="#888" stroke-width="1.5"/>
<path stroke="#333" stroke-width="1.6" d="M666.2,1258.3V1496.7M584.8,1402.7H823.3"/>
<!-- right plot contents -->
<g clip-path="url(#boxR)">
<ellipse cx="952" cy="1440" rx="50" ry="24" fill="#888" opacity="0.22"/>
<ellipse cx="911" cy="1440" rx="12" ry="15" fill="#333" opacity="0.6"/>
<g fill="none" stroke="#555" stroke-width="0.9">
<ellipse cx="952" cy="1440" rx="52" ry="25"/>
<ellipse cx="950" cy="1440" rx="44" ry="21"/>
<ellipse cx="950" cy="1440" rx="36" ry="18"/>
<ellipse cx="952" cy="1440" rx="28" ry="15"/>
<ellipse cx="953" cy="1440" rx="20" ry="11"/>
<ellipse cx="953" cy="1440" rx="13" ry="8"/>
<ellipse cx="953" cy="1440" rx="6" ry="4"/>
<ellipse cx="911" cy="1440" rx="15" ry="18"/>
<ellipse cx="911" cy="1440" rx="10" ry="13"/>
<ellipse cx="911" cy="1440" rx="6" ry="8"/>
</g>
<g fill="none" stroke="#777" stroke-width="0.8">
<ellipse cx="917" cy="1335" rx="6" ry="66"/>
<ellipse cx="917" cy="1345" rx="3.5" ry="26"/>
</g>
<rect x="895" y="1262" width="120" height="215" filter="url(#spk)" clip-path="url(#spR)"/>
</g>
<rect x="856" y="1258.3" width="235.7" height="238.4" fill="none" stroke="#888" stroke-width="1.5"/>
<path stroke="#333" stroke-width="1.6" d="M936.5,1258.3V1496.7M856,1402.7H1091.7"/>
<g font-size="25">
<text x="590.7" y="1288.3" textLength="30.7" lengthAdjust="spacingAndGlyphs">82</text>
<text x="774.6" y="1288.3" textLength="36" lengthAdjust="spacingAndGlyphs">2.0</text>
<text x="592.7" y="1486" textLength="35" lengthAdjust="spacingAndGlyphs">7.2</text>
<text x="775.4" y="1486" textLength="37" lengthAdjust="spacingAndGlyphs">8.5</text>
<text x="862" y="1288.3" textLength="37" lengthAdjust="spacingAndGlyphs">4.8</text>
<text x="1046.5" y="1288.3" textLength="36" lengthAdjust="spacingAndGlyphs">2.1</text>
<text x="862" y="1486" textLength="29" lengthAdjust="spacingAndGlyphs">32</text>
<text x="1054" y="1486" textLength="28" lengthAdjust="spacingAndGlyphs">61</text>
</g>
<!-- flow axis ticks -->
<g stroke="#444" stroke-width="1">
<path d="M580,1278H584.8M580,1338H584.8M580,1402.7H584.8M580,1441.7H584.8M580,1482.7H584.8M582,1300H584.8M582,1360H584.8M582,1380H584.8M582,1420H584.8M582,1430H584.8M582,1436H584.8M582,1446H584.8M582,1452H584.8M582,1462H584.8"/>
<path d="M604.5,1496.7V1501M641.8,1496.7V1502M681,1496.7V1501M748,1496.7V1501M805,1496.7V1501M620,1496.7V1499M630,1496.7V1499M636,1496.7V1499M646,1496.7V1499M652,1496.7V1499M660,1496.7V1499M700,1496.7V1499M720,1496.7V1499M735,1496.7V1499M770,1496.7V1499M785,1496.7V1499"/>
<path d="M851,1278H856M851,1338H856M851,1402.7H856M851,1441.7H856M851,1482.7H856M853,1300H856M853,1360H856M853,1380H856M853,1420H856M853,1430H856M853,1436H856M853,1446H856M853,1452H856M853,1462H856"/>
<path d="M875.6,1496.7V1501M913,1496.7V1502M952,1496.7V1501M1017,1496.7V1501M1074,1496.7V1501M890,1496.7V1499M900,1496.7V1499M906,1496.7V1499M918,1496.7V1499M924,1496.7V1499M932,1496.7V1499M970,1496.7V1499M990,1496.7V1499M1005,1496.7V1499M1040,1496.7V1499M1055,1496.7V1499"/>
</g>
<g class="tk">
<text x="578" y="1280" text-anchor="end">10⁵</text>
<text x="578" y="1340" text-anchor="end">10⁴</text>
<text x="578" y="1405" text-anchor="end">10³</text>
<text x="578" y="1444" text-anchor="end">0</text>
<text x="578" y="1485" text-anchor="end">-10³</text>
<text x="604.5" y="1515" text-anchor="middle">-10³</text>
<text x="641.8" y="1515" text-anchor="middle">0</text>
<text x="681" y="1515" text-anchor="middle">10³</text>
<text x="748" y="1515" text-anchor="middle">10⁴</text>
<text x="805" y="1515" text-anchor="middle">10⁵</text>
<text x="849" y="1280" text-anchor="end">10⁵</text>
<text x="849" y="1340" text-anchor="end">10⁴</text>
<text x="849" y="1405" text-anchor="end">10³</text>
<text x="849" y="1444" text-anchor="end">0</text>
<text x="849" y="1485" text-anchor="end">-10³</text>
<text x="875.6" y="1515" text-anchor="middle">-10³</text>
<text x="913" y="1515" text-anchor="middle">0</text>
<text x="952" y="1515" text-anchor="middle">10³</text>
<text x="1017" y="1515" text-anchor="middle">10⁴</text>
<text x="1074" y="1515" text-anchor="middle">10⁵</text>
</g>
<!-- axis arrows -->
<path stroke="#111" stroke-width="2" fill="none" d="M553.4,1523.3V1444M553.4,1523.3H628"/>
<path fill="#111" d="M553.4,1434 L558,1446 L548.8,1446 Z M638,1523.3 L626,1518.7 L626,1527.9 Z"/>
<text transform="translate(547,1491) rotate(-90)" font-size="23" text-anchor="middle" textLength="68" lengthAdjust="spacingAndGlyphs">CD11b</text>
<text x="553.4" y="1550" font-size="23" textLength="61" lengthAdjust="spacingAndGlyphs">B220</text>
</svg>
</body></html>
